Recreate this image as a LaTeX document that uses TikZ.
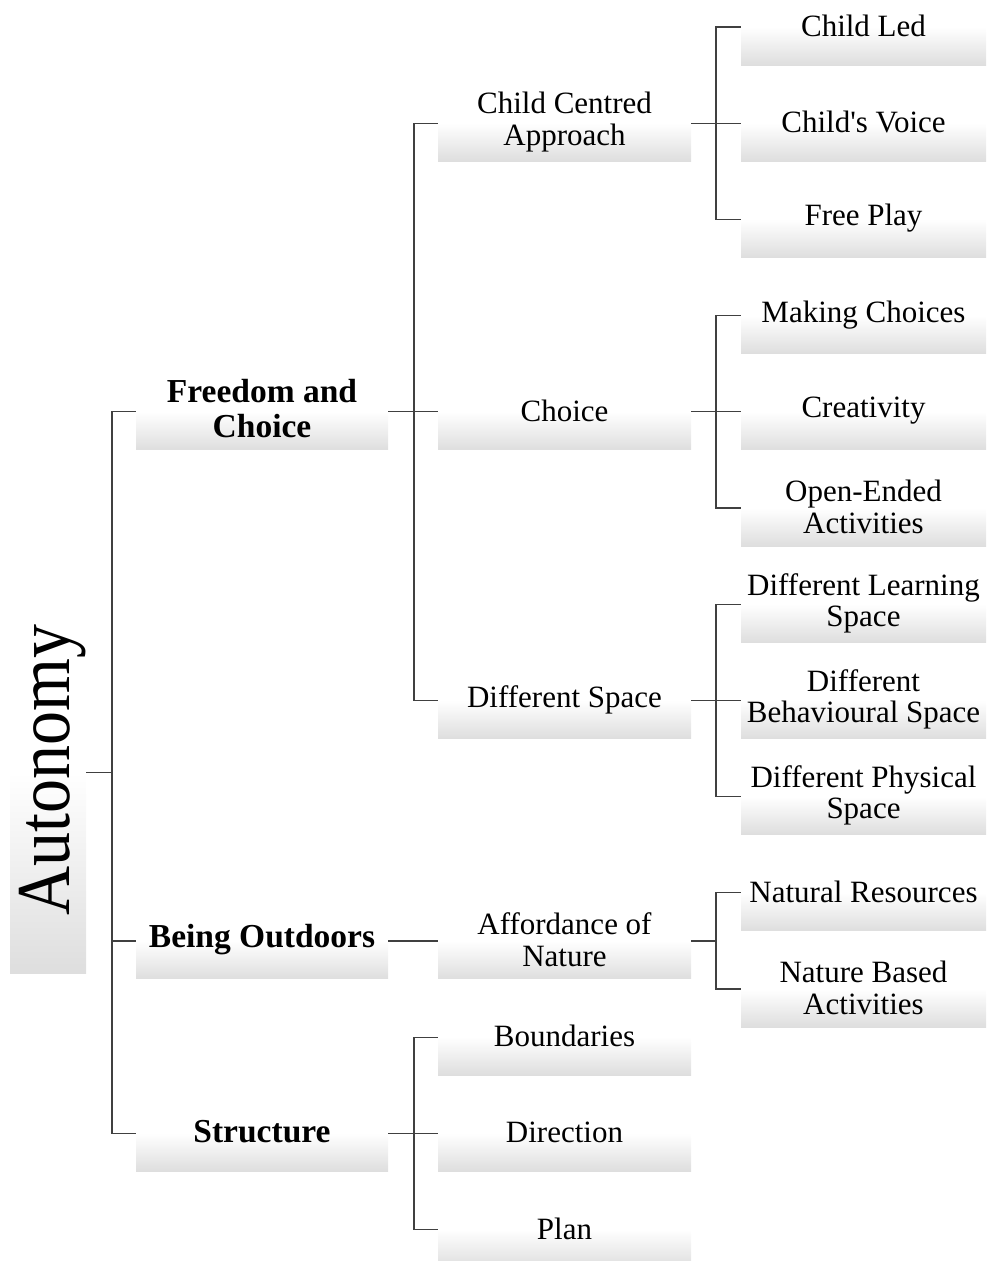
\documentclass[tikz,border=0pt]{standalone}
\usepackage{fontspec}
\setmainfont{Liberation Serif}
\begin{document}
\begin{tikzpicture}[x=1pt,y=-1pt,
  box/.style={shading=axis, top color=white, bottom color=black!13, draw=none,
    minimum height=38, inner sep=0, outer sep=0, anchor=north west},
  lone/.style={box, minimum width=252},
  ltwo/.style={box, minimum width=253},
  lthree/.style={box, minimum width=245},
  txt/.style={font=\fontsize{31}{31.5}\selectfont, align=center, inner sep=0, anchor=center},
  btxt/.style={txt, font=\fontsize{33.5}{35}\selectfont\bfseries},
  conn/.style={draw=black!75, line width=1.2}]
\useasboundingbox (0,0) rectangle (986,1261);
\begin{scope}
\clip (0,0) rectangle (986,1261);

% root
\node[box, minimum width=76, minimum height=201] (root) at (10,772.5) {};
\node[anchor=center, rotate=90, yscale=1.12, inner sep=0, font=\fontsize{68}{68}\selectfont] (troot) at (53,770) {Autonomy};

% level 1
\node[lone] (fc) at (136,411.8) {};
\node[lone] (bo) at (136,940.9) {};
\node[lone] (st) at (136,1133.3) {};

% level 2
\node[ltwo] (cca) at (438,123.2) {};
\node[ltwo] (ch)  at (438,411.8) {};
\node[ltwo] (ds)  at (438,700.4) {};
\node[ltwo] (an)  at (438,940.9) {};
\node[ltwo] (bd)  at (438,1037.1) {};
\node[ltwo] (dr)  at (438,1133.3) {};
\node[ltwo] (pl)  at (438,1229.5) {};

% level 3
\node[lthree] (cl)  at (741,27) {};
\node[lthree] (cv)  at (741,123.2) {};
\node[lthree] (fp)  at (741,219.4) {};
\node[lthree] (mc)  at (741,315.6) {};
\node[lthree] (cr)  at (741,411.8) {};
\node[lthree] (oe)  at (741,508) {};
\node[lthree] (dls) at (741,604.2) {};
\node[lthree] (dbs) at (741,700.4) {};
\node[lthree] (dps) at (741,796.6) {};
\node[lthree] (nr)  at (741,892.8) {};
\node[lthree] (nba) at (741,989) {};

% labels centred on each box's top edge
\node[btxt] (tfc) at ([yshift=3]fc.north) {Freedom and\\Choice};
\node[btxt] (tbo) at ([yshift=1.5]bo.north) {Being Outdoors};
\node[btxt] (tst) at ([yshift=1.5]st.north) {Structure};

\node[txt] (tcca) at ([yshift=1]cca.north) {Child Centred\\Approach};
\node[txt] (tch)  at ([yshift=1]ch.north) {Choice};
\node[txt] (tds)  at ([yshift=1]ds.north) {Different Space};
\node[txt] (tan)  at ([yshift=1]an.north) {Affordance of\\Nature};
\node[txt] (tbd)  at ([yshift=1]bd.north) {Boundaries};
\node[txt] (tdr)  at ([yshift=1]dr.north) {Direction};
\node[txt] (tpl)  at ([yshift=1]pl.north) {Plan};

\node[txt] (tcl)  at ([yshift=1.5]cl.north) {Child Led};
\node[txt] (tcv)  at ([yshift=1]cv.north) {Child\textquotesingle s Voice};
\node[txt] (tfp)  at ([yshift=1]fp.north) {Free Play};
\node[txt] (tmc)  at ([yshift=1]mc.north) {Making Choices};
\node[txt] (tcr)  at ([yshift=1]cr.north) {Creativity};
\node[txt] (toe)  at ([yshift=1]oe.north) {Open-Ended\\Activities};
\node[txt] (tdls) at ([yshift=1]dls.north) {Different Learning\\Space};
\node[txt] (tdbs) at ([yshift=1]dbs.north) {Different\\Behavioural Space};
\node[txt] (tdps) at ([yshift=1]dps.north) {Different Physical\\Space};
\node[txt] (tnr)  at ([yshift=1]nr.north) {Natural Resources};
\node[txt] (tnba) at ([yshift=1]nba.north) {Nature Based\\Activities};

% connectors
\foreach \c in {fc,bo,st}
  \draw[conn] (root.north east) -- ++(26,0) |- (\c.north west);
\foreach \c in {cca,ch,ds}
  \draw[conn] (fc.north east) -- ++(26,0) |- (\c.north west);
\draw[conn] (bo.north east) -- (an.north west);
\foreach \c in {bd,dr,pl}
  \draw[conn] (st.north east) -- ++(26,0) |- (\c.north west);
\foreach \c in {cl,cv,fp}
  \draw[conn] (cca.north east) -- ++(25,0) |- (\c.north west);
\foreach \c in {mc,cr,oe}
  \draw[conn] (ch.north east) -- ++(25,0) |- (\c.north west);
\foreach \c in {dls,dbs,dps}
  \draw[conn] (ds.north east) -- ++(25,0) |- (\c.north west);
\foreach \c in {nr,nba}
  \draw[conn] (an.north east) -- ++(25,0) |- (\c.north west);
\end{scope}
\end{tikzpicture}
\end{document}
